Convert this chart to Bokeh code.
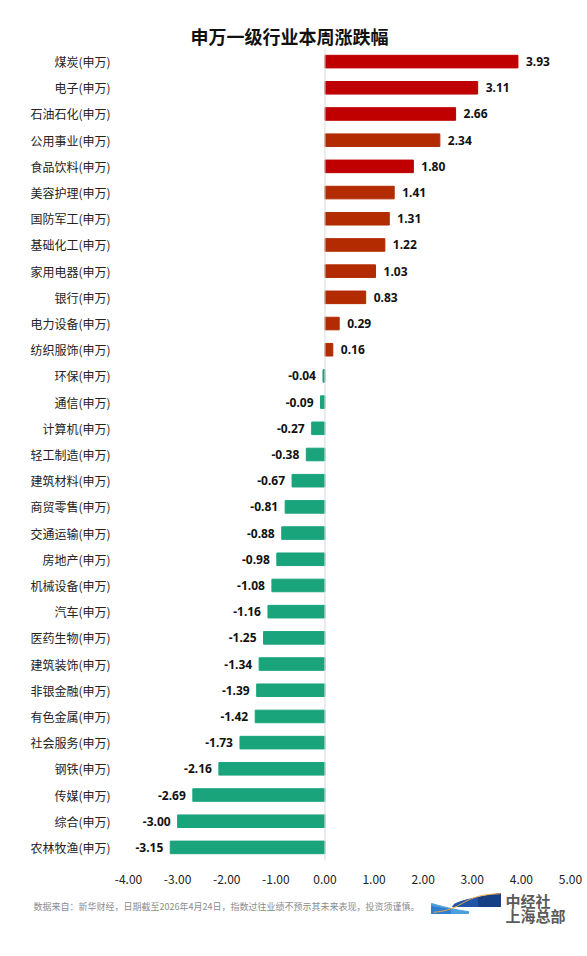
import numpy as np
from bokeh.plotting import figure
from bokeh.models import ColumnDataSource, FixedTicker, NumeralTickFormatter, Range1d
from bokeh.core.properties import value
from bokeh.embed import file_html
from bokeh.resources import INLINE

# ---------------- data ----------------
title_text = "申万一级行业本周涨跌幅"
industries = ["煤炭(申万)", "电子(申万)", "石油石化(申万)", "公用事业(申万)", "食品饮料(申万)",
              "美容护理(申万)", "国防军工(申万)", "基础化工(申万)", "家用电器(申万)", "银行(申万)",
              "电力设备(申万)", "纺织服饰(申万)", "环保(申万)", "通信(申万)", "计算机(申万)",
              "轻工制造(申万)", "建筑材料(申万)", "商贸零售(申万)", "交通运输(申万)", "房地产(申万)",
              "机械设备(申万)", "汽车(申万)", "医药生物(申万)", "建筑装饰(申万)", "非银金融(申万)",
              "有色金属(申万)", "社会服务(申万)", "钢铁(申万)", "传媒(申万)", "综合(申万)",
              "农林牧渔(申万)"]
changes = [3.93, 3.11, 2.66, 2.34, 1.80, 1.41, 1.31, 1.22, 1.03, 0.83, 0.29, 0.16,
           -0.04, -0.09, -0.27, -0.38, -0.67, -0.81, -0.88, -0.98, -1.08, -1.16, -1.25,
           -1.34, -1.39, -1.42, -1.73, -2.16, -2.69, -3.00, -3.15]
highlight = ["煤炭(申万)", "电子(申万)", "石油石化(申万)", "食品饮料(申万)"]
x_ticks = [-4, -3, -2, -1, 0, 1, 2, 3, 4, 5]
note = "数据来自：新华财经，日期截至2026年4月24日，指数过往业绩不预示其未来表现，投资须谨慎。"
logo_line1 = "中经社"
logo_line2 = "上海总部"

RED = "#C00000"
ORANGE = "#B32B00"
GREEN = "#19A47C"
CJK = "Noto Sans CJK SC"

# ---------------- layout (page pixels) ----------------
W, H = 587, 940
F_LEFT, F_RIGHT, F_TOP, F_BOTTOM = 128, 570, 48, 860
X0, X1 = -4, 5
N = len(industries)

def px2x(px):
    return X0 + (px - F_LEFT) * (X1 - X0) / (F_RIGHT - F_LEFT)

def py2y(py):
    return (F_BOTTOM - py) * N / (F_BOTTOM - F_TOP)

# row positions: first industry at the top
ypos = [N - 1 - i + 0.5 for i in range(N)]

colors = []
for name, v in zip(industries, changes):
    if v < 0:
        colors.append(GREEN)
    elif name in highlight:
        colors.append(RED)
    else:
        colors.append(ORANGE)

src = ColumnDataSource(dict(y=ypos, val=changes, color=colors))
pos = ColumnDataSource(dict(y=[y for y, v in zip(ypos, changes) if v >= 0],
                            val=[v for v in changes if v >= 0],
                            lab=["%.2f" % v for v in changes if v >= 0]))
neg = ColumnDataSource(dict(y=[y for y, v in zip(ypos, changes) if v < 0],
                            val=[v for v in changes if v < 0],
                            lab=["%.2f" % v for v in changes if v < 0]))

p = figure(width=W, height=H, x_range=Range1d(px2x(0), px2x(W)),
           y_range=Range1d(py2y(H), py2y(0)), output_backend="svg", toolbar_location=None,
           min_border=0)
p.xgrid.visible = False
p.ygrid.visible = False
p.outline_line_color = None

p.hbar(y="y", left=0, right="val", height=0.48, color="color", source=src)
# zero reference line
p.segment(x0=[0], y0=[0], x1=[0], y1=[N], line_color="#d9d9d9", line_width=1)

p.text(x="val", y="y", text="lab", source=pos, x_offset=8, text_align="left",
       text_baseline="middle", text_font=value("Noto Sans"), text_font_size="12px",
       text_font_style="bold", text_color="#111111")
p.text(x="val", y="y", text="lab", source=neg, x_offset=-7, text_align="right",
       text_baseline="middle", text_font=value("Noto Sans"), text_font_size="12px",
       text_font_style="bold", text_color="#111111")

p.xaxis.ticker = FixedTicker(ticks=x_ticks)
p.xaxis.formatter = NumeralTickFormatter(format="0.00")
p.xaxis.fixed_location = 0
p.yaxis.ticker = FixedTicker(ticks=ypos)
p.yaxis.major_label_overrides = {y: name for y, name in zip(ypos, industries)}
p.yaxis.fixed_location = X0
for ax in (p.xaxis, p.yaxis):
    ax.axis_line_color = None
    ax.major_tick_line_color = None
    ax.minor_tick_line_color = None
    ax.major_label_text_font = CJK
    ax.major_label_text_font_size = "12px"
    ax.major_label_text_color = "#222222"
p.xaxis.major_label_standoff = 8
p.yaxis.major_label_standoff = 12

# ---------------- title ----------------
p.text(x=[px2x(289)], y=[py2y(35)], text=[title_text], text_font=value(CJK),
       text_font_size="18px", text_font_style="bold", text_align="center",
       text_baseline="middle", text_color="#111111")

# ---------------- footer ----------------
p.text(x=[px2x(33)], y=[py2y(906)], text=[note], text_font=value(CJK), text_font_size="9px",
       text_align="left", text_baseline="middle", text_color="#8c8c8c")
p.text(x=[px2x(505), px2x(505)], y=[py2y(900), py2y(915)], text=[logo_line1, logo_line2],
       text_font=value(CJK), text_font_size="15px", text_font_style="bold",
       text_align="left", text_baseline="middle", text_color="#5a5a5a")

# logo swoosh (decoration)
# light blue lower-left wing
lx = np.linspace(431, 468, 25)
ly = 913 - 8 * (1 - (lx - 431) / 37) ** 1.3 - 2
p.patch(x=[px2x(v) for v in list(lx) + [468, 431]],
        y=[py2y(v) for v in list(ly) + [913, 913]], color="#4d9fdc")
p.patch(x=[px2x(v) for v in [431, 450, 450, 431]],
        y=[py2y(v) for v in [906, 909, 913, 913]], color="#2f7fd0")
# dark blue upper-right wing
dx = np.linspace(452, 500, 30)
dy = 906 - 13 * ((dx - 452) / 48) ** 0.55
p.patch(x=[px2x(v) for v in list(dx) + [500, 452]],
        y=[py2y(v) for v in list(dy) + [906, 906]], color="#1f55a6")
p.patch(x=[px2x(v) for v in [478, 500, 500, 478]],
        y=[py2y(v) for v in [897, 893, 906, 906]], color="#163f86")
# thin orange curve between the wings
ox = np.linspace(433, 500, 40)
oy = 912.5 - 19.5 / (1 + np.exp(-(ox - 462) / 9))
p.line(x=[px2x(v) for v in ox], y=[py2y(v) for v in oy], line_color="#f2a541", line_width=1)

open("out.html", "w").write(file_html(p, INLINE))
